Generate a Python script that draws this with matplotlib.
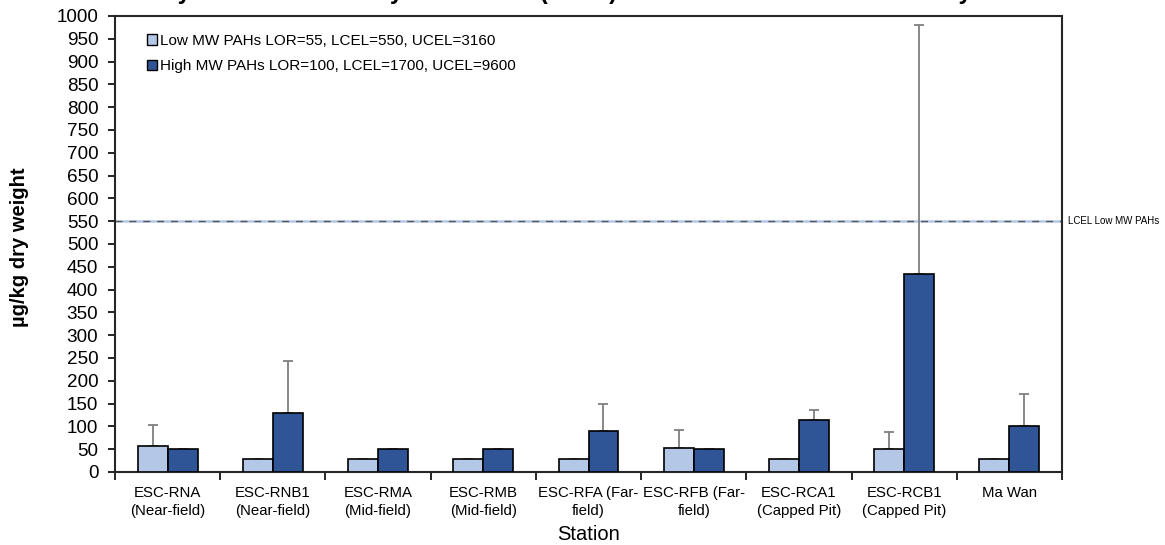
import matplotlib
matplotlib.use("Agg")
import matplotlib.pyplot as plt
from matplotlib.patches import Patch
from matplotlib.transforms import blended_transform_factory
import numpy as np

plt.rcParams['font.family'] = ['Liberation Sans', 'DejaVu Sans']

stations = ["ESC-RNA\n(Near-field)", "ESC-RNB1\n(Near-field)", "ESC-RMA\n(Mid-field)",
            "ESC-RMB\n(Mid-field)", "ESC-RFA (Far-\nfield)", "ESC-RFB (Far-\nfield)",
            "ESC-RCA1\n(Capped Pit)", "ESC-RCB1\n(Capped Pit)", "Ma Wan"]
low_mw = [58, 27.5, 27.5, 27.5, 27.5, 53.5, 27.5, 51, 27.5]
low_mw_err = [45, 0, 0, 0, 0, 38.5, 0, 36, 0]
high_mw = [50, 130, 50, 50, 91, 50, 115, 435, 100]
high_mw_err = [0, 114, 0, 0, 58, 0, 22, 546, 71]
yticks = list(range(0, 1001, 50))
lcel_low = 550

legend_labels = ["Low MW PAHs LOR=55, LCEL=550, UCEL=3160",
                 "High MW PAHs LOR=100, LCEL=1700, UCEL=9600"]
title = "Yearly Mean Aromatic Hydrocarbons (PAHs) Concentrations in Sediment by Station"

c_low = "#B4C7E7"
c_high = "#2F5597"
c_err = "#7F7F7F"

W, H = 1165, 545
fig = plt.figure(figsize=(W / 100, H / 100), dpi=100)
ax = fig.add_axes([115 / W, 1 - 472 / H, (1062 - 115) / W, (472 - 16) / H])

x = np.arange(len(stations))
bw = 0.285
zeros = np.zeros(len(stations))
ax.bar(x - bw / 2, low_mw, bw, color=c_low, edgecolor="black", linewidth=1.2, zorder=3)
ax.bar(x + bw / 2, high_mw, bw, color=c_high, edgecolor="black", linewidth=1.2, zorder=3)
ax.errorbar(x - bw / 2, low_mw, yerr=[zeros, low_mw_err], fmt="none", ecolor=c_err,
            elinewidth=1.3, capsize=3.3, capthick=1.3, zorder=2)
ax.errorbar(x + bw / 2, high_mw, yerr=[zeros, high_mw_err], fmt="none", ecolor=c_err,
            elinewidth=1.3, capsize=3.3, capthick=1.3, zorder=2)

# LCEL line
ax.axhline(lcel_low, color=c_low, linewidth=1.8, zorder=1)
ax.axhline(lcel_low, color="#595959", linewidth=1.0, dashes=(5, 5), zorder=1)
trans = blended_transform_factory(ax.transAxes, ax.transData)
ax.text(1.006, lcel_low, "LCEL Low MW PAHs", transform=trans, fontsize=7,
        va="center", ha="left", clip_on=False)

ax.set_xlim(-0.5, len(stations) - 0.5)
ax.set_ylim(0, 1000)
ax.set_yticks(yticks)
ax.set_yticklabels([str(v) for v in yticks], fontsize=13.6)
ax.tick_params(axis="y", length=5, width=1.2, pad=7, direction="out")

ax.set_xticks(np.arange(-0.5, len(stations)), labels=[""] * (len(stations) + 1))
ax.set_xticks(x, minor=True)
ax.set_xticklabels(stations, minor=True, fontsize=10.8, linespacing=1.38)
ax.tick_params(axis="x", which="major", length=6, width=1.2, direction="out")
ax.tick_params(axis="x", which="minor", length=0, pad=10.3)

for s in ax.spines.values():
    s.set_linewidth(1.5)
    s.set_color("#262626")

handles = [Patch(facecolor=c_low, edgecolor="black", linewidth=1.0),
           Patch(facecolor=c_high, edgecolor="black", linewidth=1.0)]
ax.legend(handles, legend_labels, loc="upper left", bbox_to_anchor=(0.034, 0.961),
          frameon=False, fontsize=11, handlelength=0.65, handleheight=0.65,
          handletextpad=0.2, labelspacing=0.75, borderpad=0, borderaxespad=0)

fig.text(20 / W, 1 - 247 / H, "µg/kg dry weight", rotation=90, fontsize=14.5,
         fontweight="bold", ha="center", va="center")
fig.text(589 / W, 1 - 534 / H, "Station", fontsize=14.5, ha="center", va="center")
fig.text(590 / W, 1 + 0.5 / H, title, fontsize=17, fontweight="bold",
         ha="center", va="baseline")

fig.savefig("out.png", dpi=100)
